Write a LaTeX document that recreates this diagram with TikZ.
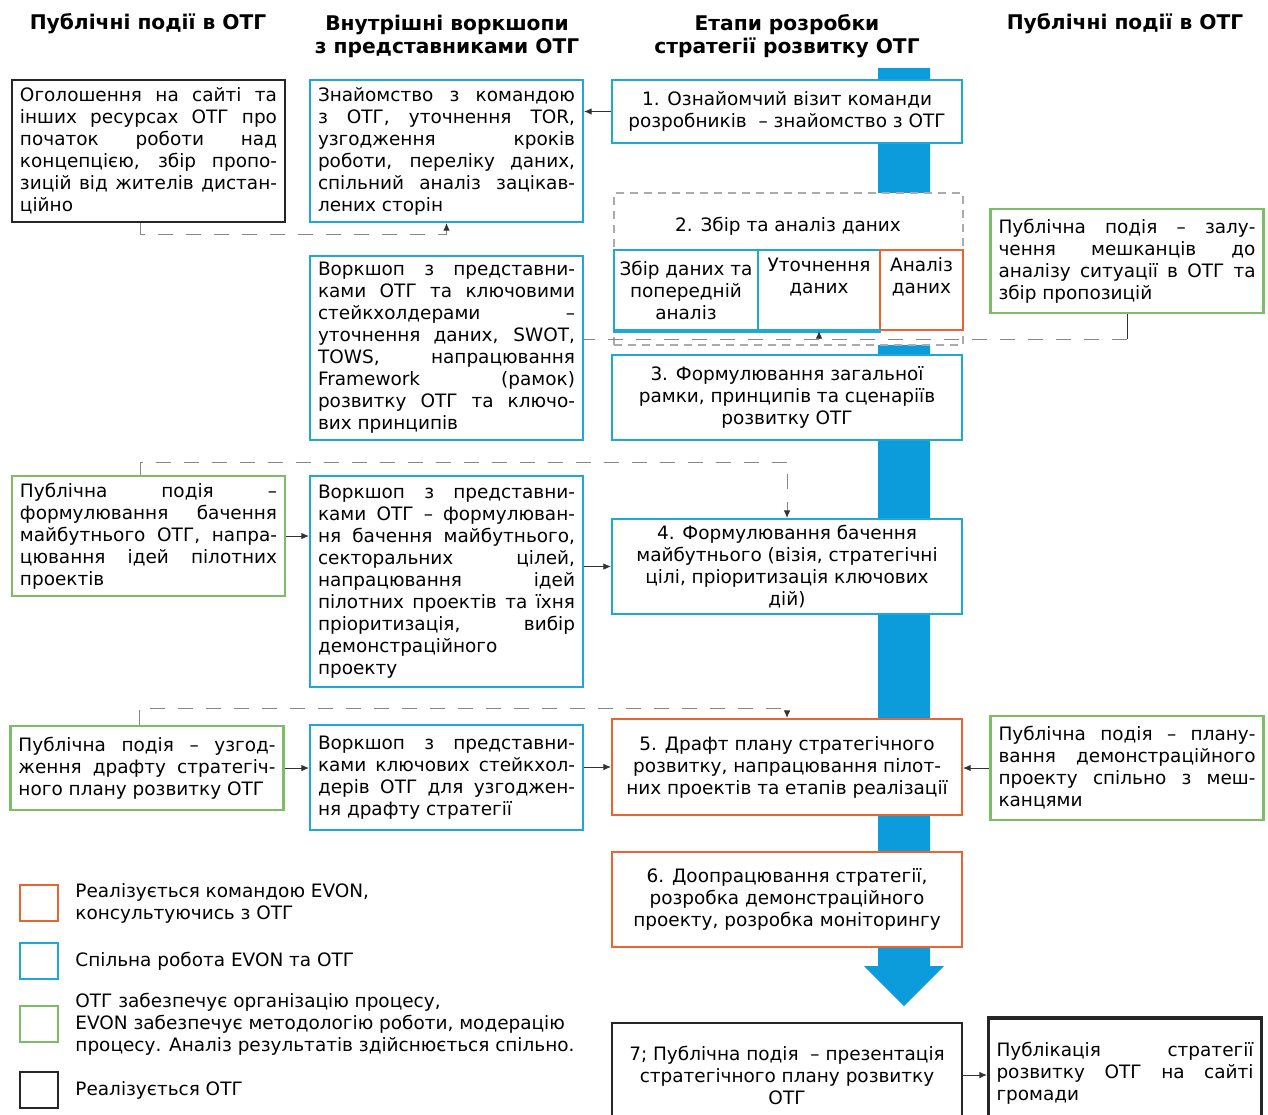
\documentclass[tikz,border=0pt]{standalone}
\usepackage{fontspec}
\setmainfont{DejaVu Sans}
\usetikzlibrary{arrows.meta, positioning}

\definecolor{evonorange}{RGB}{232,100,48}
\definecolor{jointblue}{RGB}{30,168,214}
\definecolor{shaftblue}{RGB}{12,156,219}
\definecolor{otggreen}{RGB}{124,190,102}
\definecolor{dashgray}{RGB}{135,135,135}
\definecolor{linkgray}{RGB}{50,50,50}

\tolerance=10000
\hbadness=10000

\begin{document}
\begin{tikzpicture}[
    x=0.2mm, y=-0.2mm,
    every node/.style={font=\fontsize{10.5}{12.5}\selectfont},
    box/.style={rectangle, fill=white, line width=1.2pt, inner xsep=0.16cm, inner ysep=0.1cm},
    evon/.style={box, draw=evonorange},
    joint/.style={box, draw=jointblue},
    hromada/.style={box, draw=otggreen},
    otg/.style={box, draw=black!85, line width=1.4pt},
    stage/.style={minimum width=7cm, align=center},
    sidebox/.style={minimum width=5.46cm, text width=5.14cm, align=justify},
    subbox/.style={box, minimum height=1.6cm, align=center, inner xsep=2pt},
    header/.style={font=\fontsize{11.5}{13}\selectfont\bfseries, align=center},
    legbox/.style={rectangle, line width=1.4pt, minimum width=0.76cm, minimum height=0.72cm},
    link/.style={draw=linkgray, line width=0.5pt, -{Latex[length=1.5mm, width=1.3mm, color=linkgray]}},
    dlink/.style={link, draw=dashgray, dash pattern=on 3mm off 2.6mm}
]
\useasboundingbox (0,0) rectangle (1268,1114);

% Blue arrow through the stages
\fill[shaftblue] (878,68) -- (930,68) -- (930,966) -- (944,966) -- (904,1006) -- (864,966) -- (878,966) -- cycle;

% Column headers
\node[header] (h_left)   at (148,24)  {Публічні події в ОТГ};
\node[header] (h_work)   at (447,36)  {Внутрішні воркшопи\\з представниками ОТГ};
\node[header] (h_stage)  at (787,36)  {Етапи розробки\\стратегії розвитку ОТГ};
\node[header] (h_right)  at (1125,24) {Публічні події в ОТГ};

% Stages of the strategy
\node[joint, stage, minimum height=1.26cm] (b1) at (787,111.5) {1. Ознайомчий візит команди\\розробників \ – знайомство з ОТГ};

\node[box, draw=dashgray!70, dash pattern=on 1.6mm off 1.2mm, minimum width=6.98cm, minimum height=3.04cm] (b2) at (788.5,269) {};
\node (b2title) at (788,226) {2. Збір та аналіз даних};
\node[subbox, draw=jointblue, minimum width=2.88cm] (sa) at (686,290) {Збір даних та\\попередній\\аналіз};
\node[subbox, draw=jointblue, minimum width=2.44cm] (sb) at (819,290) {Уточнення\\даних\\\strut};
\node[subbox, draw=evonorange, minimum width=1.66cm] (sc) at (921.5,290) {Аналіз\\даних\\\strut};
\draw[jointblue, line width=2.2pt] (sa.south west) -- (sb.south east);

\node[joint, stage, minimum height=1.7cm]  (b3) at (787,397.5) {3. Формулювання загальної\\рамки, принципів та сценаріїв\\розвитку ОТГ};
\node[joint, stage, minimum height=1.9cm]  (b4) at (787,566.5) {4. Формулювання бачення\\майбутнього (візія, стратегічні\\цілі, пріоритизація ключових\\дій)};
\node[evon, stage, minimum height=1.92cm]  (b5) at (787,767)   {5. Драфт плану стратегічного\\розвитку, напрацювання пілот-\\них проектів та етапів реалізації};
\node[evon, stage, minimum height=1.9cm]   (b6) at (787,899.5) {6. Доопрацювання стратегії,\\розробка демонстраційного\\проекту, розробка моніторингу};
\node[otg, stage, minimum height=2.08cm]   (b7) at (787,1075)  {7; Публічна подія \ – презентація\\стратегічного плану розвитку\\ОТГ};

% Public events, left column
\node[otg, sidebox, minimum height=2.84cm] (l1) at (148.5,151) {Оголошення на сайті та\linebreak інших ресурсах ОТГ про\linebreak початок роботи над\linebreak концепцією, збір пропо-\linebreak зицій від жителів дистан-\linebreak ційно};
\node[hromada, sidebox, minimum height=2.4cm] (l4) at (148.5,536) {Публічна подія –\linebreak формулювання бачення\linebreak майбутнього ОТГ, напра-\linebreak цювання ідей пілотних\linebreak проектів};
\node[hromada, sidebox, minimum height=1.68cm] (l5) at (147,768) {Публічна подія – узгод-\linebreak ження драфту стратегіч-\linebreak ного плану розвитку ОТГ};

% Internal workshops
\node[joint, sidebox, minimum height=2.84cm] (m1) at (446.5,151) {Знайомство з командою\linebreak з ОТГ, уточнення TOR,\linebreak узгодження кроків\linebreak роботи, переліку даних,\linebreak спільний аналіз зацікав-\linebreak лених сторін};
\node[joint, sidebox, minimum height=3.68cm] (m2) at (446.5,348) {Воркшоп з представни-\linebreak ками ОТГ та ключовими\linebreak стейкхолдерами –\linebreak уточнення даних, SWOT,\linebreak TOWS, напрацювання\linebreak Framework (рамок)\linebreak розвитку ОТГ та ключо-\linebreak вих принципів};
\node[joint, sidebox, minimum height=4.22cm] (m4) at (446.5,581.5) {Воркшоп з представни-\linebreak ками ОТГ – формулюван-\linebreak ня бачення майбутнього,\linebreak секторальних цілей,\linebreak напрацювання ідей\linebreak пілотних проектів та їхня\linebreak пріоритизація, вибір\linebreak демонстраційного\linebreak проекту};
\node[joint, sidebox, minimum height=2.1cm] (m5) at (446.5,777.5) {Воркшоп з представни-\linebreak ками ключових стейкхол-\linebreak дерів ОТГ для узгоджен-\linebreak ня драфту стратегії};

% Public events, right column
\node[hromada, sidebox, minimum height=2.08cm] (r2) at (1127,261) {Публічна подія – залу-\linebreak чення мешканців до\linebreak аналізу ситуації в ОТГ та\linebreak збір пропозицій};
\node[hromada, sidebox, minimum height=2.08cm] (r5) at (1127,768) {Публічна подія – плану-\linebreak вання демонстраційного\linebreak проекту спільно з меш-\linebreak канцями};
\node[otg, sidebox, line width=1.8pt, minimum height=2.2cm] (pub) at (1125,1073) {Публікація стратегії\linebreak розвитку ОТГ на сайті\linebreak громади};

% Legend
\node[legbox, draw=evonorange] (lg_evon) at (39,903) {};
\node[legbox, draw=jointblue]  (lg_joint) at (39,961) {};
\node[legbox, draw=otggreen]   (lg_hrom) at (39,1024) {};
\node[legbox, draw=black!85]   (lg_otg) at (39,1090) {};
\node[right=0.2cm of lg_evon, align=left]  (lt_evon)  {Реалізується командою EVON,\\консультуючись з ОТГ};
\node[right=0.2cm of lg_joint, align=left] (lt_joint) {Спільна робота EVON та ОТГ};
\node[right=0.2cm of lg_hrom, align=left]  (lt_hrom)  {ОТГ забезпечує організацію процесу,\\EVON забезпечує методологію роботи, модерацію\\процесу. Аналіз результатів здійснюється спільно.};
\node[right=0.2cm of lg_otg, align=left]   (lt_otg)   {Реалізується ОТГ};

% Connections - first stage
\draw[link] (b1.west) -- (b1.west -| m1.east);
\draw[dlink] ([xshift=-0.16cm]l1.south) -- ++(0,11) -| (m1.south);

% Connections - data collection
\coordinate (j2) at ([yshift=-0.16cm]sb.south);
\draw[link, -] (r2.south) -- (r2.south |- j2);
\draw[dlink, -] (r2.south |- j2) -- (m2.east |- j2);
\draw[link] (j2) -- (sb.south);

% Connections - vision
\draw[dlink] ([xshift=-0.16cm]l4.north) -- ++(0,-13) -| (b4.north);
\draw[link] (l4.east) -- (l4.east -| m4.west);
\draw[link] (m4.east |- b4.west) -- (b4.west);

% Connections - draft plan
\draw[dlink] ([xshift=-0.16cm]l5.north) -- ++(0,-17) -| (b5.north);
\draw[link] (l5.east) -- (l5.east -| m5.west);
\draw[link] (m5.east |- b5.west) -- (b5.west);
\draw[link] (r5.west) -- (r5.west -| b5.east);

% Connections - publication
\draw[link] (b7.east) -- (b7.east -| pub.west);

\end{tikzpicture}
\end{document}
